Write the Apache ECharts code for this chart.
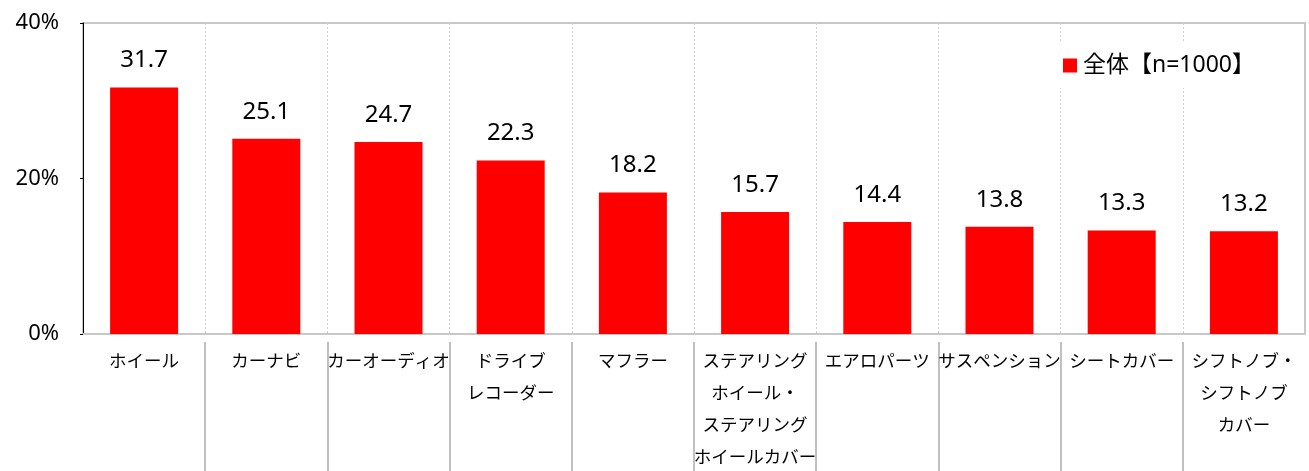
<!DOCTYPE html>
<html>
<head>
<meta charset="utf-8">
<script src="https://cdn.jsdelivr.net/npm/echarts@6/dist/echarts.min.js"></script>
<style>html,body{margin:0;padding:0;background:#fff;}#c{width:1309px;height:471px;}</style>
</head>
<body>
<div id="c"></div>
<script>
const categories = ['ホイール', 'カーナビ', 'カーオーディオ', 'ドライブ\nレコーダー', 'マフラー', 'ステアリング\nホイール・\nステアリング\nホイールカバー', 'エアロパーツ', 'サスペンション', 'シートカバー', 'シフトノブ・\nシフトノブ\nカバー'];
const values = [31.7, 25.1, 24.7, 22.3, 18.2, 15.7, 14.4, 13.8, 13.3, 13.2];
const seriesName = '全体【n=1000】';
const yTicks = { min: 0, max: 40, interval: 20 };

const FONT = '"Noto Sans CJK JP", "Noto Sans", sans-serif';
const NUMFONT = '"Noto Sans", "Noto Sans CJK JP", sans-serif';
const chart = echarts.init(document.getElementById('c'), null, { renderer: 'canvas' });
chart.setOption({
  animation: false,
  textStyle: { fontFamily: FONT },
  grid: [
    { left: 83, right: 4, top: 23, bottom: 137, show: true, borderColor: '#c8c8c8', borderWidth: 2, outerBoundsMode: 'none', containLabel: false },
    { left: 83, right: 4, top: 342, bottom: 0, outerBoundsMode: 'none', containLabel: false }
  ],
  legend: {
    data: [seriesName],
    left: 1053, top: 43,
    padding: [11, 8, 11, 10],
    backgroundColor: '#ffffff',
    icon: 'rect', itemWidth: 14, itemHeight: 14, itemGap: 0,
    textStyle: { fontSize: 23, color: '#000', fontFamily: NUMFONT, padding: [0, 0, 0, 1] }
  },
  xAxis: [
    {
      type: 'category', gridIndex: 0, data: categories,
      axisLine: { show: true, lineStyle: { color: '#c8c8c8', width: 2 } },
      axisTick: { show: false },
      splitLine: { show: true, showMinLine: false, showMaxLine: false, lineStyle: { color: '#d0d0d0', type: [2, 2], width: 1 } },
      axisLabel: { interval: 0, fontSize: 17.5, lineHeight: 32, color: '#000', margin: 10, fontFamily: FONT }
    },
    {
      type: 'category', gridIndex: 1, data: categories,
      axisLine: { show: false }, axisTick: { show: false }, axisLabel: { show: false },
      splitLine: { show: true, showMinLine: false, showMaxLine: false, lineStyle: { color: '#c0c0c0', type: 'solid', width: 2 } }
    }
  ],
  yAxis: [
    {
      type: 'value', gridIndex: 0, min: yTicks.min, max: yTicks.max, interval: yTicks.interval,
      axisLine: { show: true, lineStyle: { color: '#000', width: 1 } },
      axisTick: { show: true, length: 3, lineStyle: { color: '#000' } },
      splitLine: { show: false },
      axisLabel: { formatter: '{value}%', fontSize: 22, color: '#000', margin: 24, fontFamily: NUMFONT }
    },
    { type: 'value', gridIndex: 1, min: 0, max: 1, show: false, splitLine: { show: false } }
  ],
  series: [
    {
      name: seriesName, type: 'bar', xAxisIndex: 0, yAxisIndex: 0,
      data: values, barWidth: 68,
      itemStyle: { color: '#ff0000' },
      label: { show: true, position: 'top', distance: 15, fontSize: 24, color: '#000', fontFamily: NUMFONT, formatter: (p) => p.value.toFixed(1) }
    }
  ]
});
</script>
</body>
</html>
